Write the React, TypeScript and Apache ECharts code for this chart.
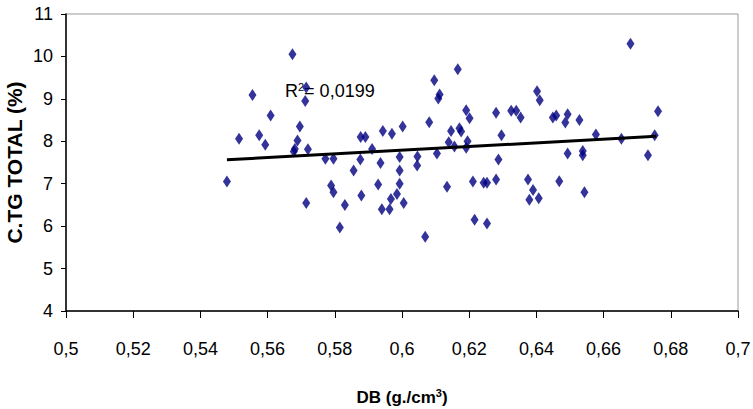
import React, { useEffect, useRef } from "react";
import * as echarts from "echarts";

const dbValues = [
  0.5479, 0.5515, 0.5555, 0.5575, 0.5593, 0.5609, 0.5674, 0.5681, 0.5689, 0.5678,
  0.5696, 0.5712, 0.5715, 0.572, 0.5715, 0.5772, 0.5796, 0.5789, 0.5796, 0.5815,
  0.583, 0.5856, 0.5876, 0.5877, 0.5891, 0.5879, 0.5911, 0.5929, 0.5936, 0.5943,
  0.594, 0.5963, 0.5967, 0.597, 0.5985, 0.5993, 0.5993, 0.5993, 0.6002, 0.6005,
  0.6045, 0.6046, 0.6069, 0.6081, 0.6096, 0.6104, 0.6108, 0.6112, 0.6134, 0.6139,
  0.6146, 0.6156, 0.6166, 0.6171, 0.6176, 0.6191, 0.6195, 0.6191, 0.6201, 0.6211,
  0.6216, 0.6243, 0.6253, 0.6253, 0.628, 0.628, 0.6287, 0.6296, 0.6325, 0.634,
  0.6353, 0.6375, 0.6379, 0.639, 0.6402, 0.6407, 0.641, 0.6449, 0.6459, 0.6468,
  0.6486, 0.6493, 0.6493, 0.6528, 0.6538, 0.6538, 0.6543, 0.6577, 0.6653, 0.668,
  0.6732, 0.6752, 0.6762,
];
const ctgValues = [
  7.05, 8.06, 9.09, 8.14, 7.92, 8.61, 10.05, 7.82, 8.02, 7.76,
  8.35, 8.95, 9.27, 7.81, 6.545, 7.59, 7.59, 6.955, 6.8, 5.97,
  6.5, 7.31, 7.57, 8.1, 8.1, 6.72, 7.82, 6.98, 7.49, 8.24,
  6.4, 6.4, 6.64, 8.18, 6.76, 7.0, 7.31, 7.63, 8.35, 6.545,
  7.43, 7.64, 5.75, 8.45, 9.44, 7.71, 9.01, 9.1, 6.93, 7.98,
  8.24, 7.88, 9.7, 8.31, 8.23, 7.85, 8.0, 8.73, 8.54, 7.05,
  6.15, 7.02, 7.02, 6.06, 8.67, 7.1, 7.57, 8.14, 8.72, 8.72,
  8.56, 7.1, 6.62, 6.85, 9.18, 6.66, 8.97, 8.56, 8.61, 7.06,
  8.44, 8.64, 7.71, 8.5, 7.77, 7.67, 6.8, 8.16, 8.06, 10.3,
  7.67, 8.14, 8.71,
];
const trendX = [0.5479, 0.6757];
const trendY = [7.564, 8.116];
const r2Label = "0,0199";

const sans = "'Liberation Sans', Arial, sans-serif";

export default function App() {
  const ref = useRef<HTMLDivElement>(null);
  useEffect(() => {
    if (!ref.current) return;
    const chart = echarts.init(ref.current, undefined, { renderer: "svg" });
    const fmt = (v: number) => String(parseFloat(v.toFixed(2))).replace(".", ",");
    chart.setOption({
      animation: false,
      grid: {
        left: 66,
        right: 15,
        top: 14,
        bottom: 98,
        show: true,
        borderColor: "#999999",
        borderWidth: 1,
        containLabel: false,
        outerBoundsMode: "none",
      },
      xAxis: {
        type: "value",
        min: 0.5,
        max: 0.7,
        interval: 0.02,
        splitLine: { show: false },
        axisLine: { lineStyle: { color: "#000", width: 1.5 } },
        axisTick: { show: true, inside: false, length: 7, lineStyle: { color: "#000" } },
        axisLabel: {
          formatter: fmt,
          color: "#000",
          fontFamily: sans,
          fontSize: 18,
          margin: 29,
        },
        name: "DB (g./cm{sup|3})",
        nameLocation: "middle",
        nameGap: 76,
        nameMoveOverlap: false,
        nameTextStyle: {
          color: "#000",
          fontFamily: sans,
          fontWeight: "bold",
          fontSize: 17,
          rich: {
            sup: {
              fontFamily: sans,
              fontWeight: "bold",
              fontSize: 11,
              verticalAlign: "top",
              padding: [0, 0, 9, 0],
              color: "#000",
            },
          },
        },
      },
      yAxis: {
        type: "value",
        min: 4,
        max: 11,
        interval: 1,
        splitLine: { show: false },
        axisLine: { show: true, lineStyle: { color: "#000", width: 1.5 } },
        axisTick: { show: true, inside: false, length: 5, lineStyle: { color: "#000" } },
        axisLabel: {
          color: "#000",
          fontFamily: sans,
          fontSize: 18,
          margin: 13,
        },
        name: "C.TG TOTAL (%)",
        nameLocation: "middle",
        nameGap: 41,
        nameMoveOverlap: false,
        nameTextStyle: {
          color: "#000",
          fontFamily: sans,
          fontWeight: "bold",
          fontSize: 21,
        },
      },
      series: [
        {
          type: "scatter",
          symbol: "diamond",
          symbolSize: [8, 12],
          itemStyle: { color: "#000080" },
          data: dbValues.map((x, i) => [x, ctgValues[i]]),
          z: 2,
        },
        {
          type: "line",
          data: trendX.map((x, i) => [x, trendY[i]]),
          symbol: "none",
          lineStyle: { color: "#000", width: 3 },
          z: 3,
        },
      ],
      graphic: [
        {
          type: "text",
          left: 285,
          top: 81,
          style: {
            text: "R{sup|2}= " + r2Label,
            fontFamily: sans,
            fontSize: 18,
            fill: "#000",
            rich: {
              sup: { fontSize: 11, fontFamily: sans, verticalAlign: "top", padding: [0, 0, 9, 0] },
            },
          },
        },
      ],
    });
    return () => chart.dispose();
  }, []);
  return (
    <div
      ref={ref}
      style={{ position: "absolute", left: 0, top: 0, width: 753, height: 409 }}
    />
  );
}
